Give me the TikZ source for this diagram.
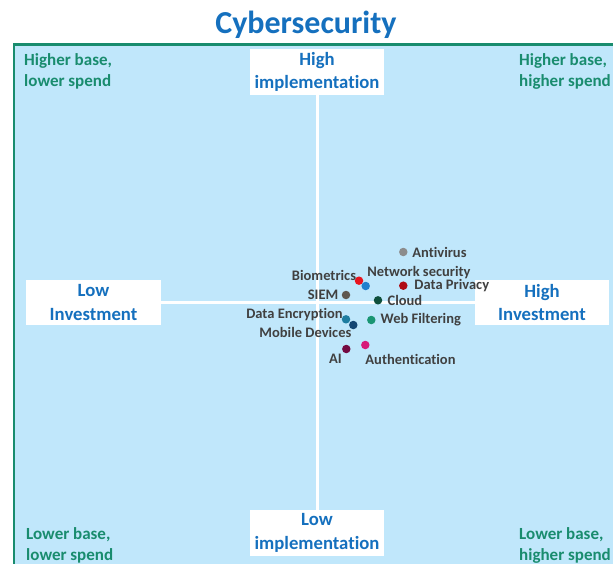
\documentclass[tikz,border=0pt]{standalone}
\usepackage{fontspec}
\setmainfont{Carlito}[Ligatures=NoCommon]
\usetikzlibrary{positioning}

\definecolor{titleblue}{RGB}{21,112,190}
\definecolor{framegreen}{RGB}{25,140,110}
\definecolor{quadfill}{RGB}{192,231,251}
\definecolor{labelgray}{RGB}{64,64,64}
% Punktfarben
\definecolor{avcol}{RGB}{140,140,140}
\definecolor{biocol}{RGB}{232,20,30}
\definecolor{netcol}{RGB}{30,128,205}
\definecolor{privcol}{RGB}{175,10,20}
\definecolor{siemcol}{RGB}{95,88,80}
\definecolor{cloudcol}{RGB}{15,80,60}
\definecolor{enccol}{RGB}{30,125,160}
\definecolor{mobcol}{RGB}{20,70,115}
\definecolor{webcol}{RGB}{25,150,115}
\definecolor{authcol}{RGB}{215,25,120}
\definecolor{aicol}{RGB}{115,10,65}

\tikzset{
  quad schemes/.style = {
    x = 1pt, y = -1pt,
    % Achsenbeschriftung
    axis box/.style = {
      fill=white, text=titleblue,
      align=center, inner sep=0pt,
      minimum width=134pt, minimum height=46pt,
      font=\fontsize{18.7}{23.5}\selectfont\bfseries
    },
    corner text/.style = {
      text=framegreen, align=left,
      inner sep=0pt, anchor=west,
      font=\fontsize{17}{21}\selectfont\bfseries
    },
    % Punkte
    data dot/.style  = { circle, inner sep=0pt, minimum size=8.5pt },
    dotlabel/.style  = { text=labelgray, inner sep=0pt,
                         font=\fontsize{14.5}{16}\selectfont\bfseries },
    axis line/.style = { white, line width=3pt },
  },
}

\begin{document}
\begin{tikzpicture}[quad schemes]
  \useasboundingbox (0,0) rectangle (613,564);
  \clip (0,0) rectangle (613,564);

  \draw[fill=quadfill, draw=framegreen, line width=2.2pt]
       (14,44.5) rectangle (640,600);

  \node[anchor=base, text=titleblue, font=\fontsize{32}{36}\selectfont\bfseries]
       (title) at (306,34) {Cybersecurity};

  \node[axis box] (highimpl) at (317,72)  {High\\implementation};
  \node[axis box] (lowimpl)  at (317,533) {Low\\implementation};
  \node[axis box, minimum width=135pt, minimum height=45pt]
       (lowinv)  at (93.5,302.5) {Low\\Investment};
  \node[axis box, minimum height=45pt]
       (highinv) at (542,302.5)  {High\\Investment};

  \draw[axis line] (highimpl.south) -- (lowimpl.north);
  \draw[axis line] (lowinv.east) -- (highinv.west);

  \node[corner text] (tl) at (24,71)   {Higher base,\\lower spend};
  \node[corner text] (tr) at (519,71)  {Higher base,\\higher spend};
  \node[corner text] (bl) at (26,545)  {Lower base,\\lower spend};
  \node[corner text] (br) at (519,545) {Lower base,\\higher spend};

  \foreach \n/\c/\p in {antivirus/avcol/{403.3,252},  biometrics/biocol/{359,280.7},
                        netsec/netcol/{365.7,286},     dataprivacy/privcol/{403.3,285.7},
                        siem/siemcol/{346,295},        cloud/cloudcol/{378,300.3},
                        dataenc/enccol/{346,319.3},    mobile/mobcol/{353.3,325},
                        webfilter/webcol/{371.3,320},  auth/authcol/{365.3,345},
                        ai/aicol/{346.3,349}}
    \node[data dot, fill=\c] (\n) at (\p) {};

  \node[dotlabel, right=4.4pt of antivirus]                 (antivirus-l)   {Antivirus};
  \node[dotlabel, left=-1.7pt of biometrics, yshift=5.7pt]  (biometrics-l)  {Biometrics};
  \node[dotlabel, right=-3pt of netsec, yshift=13.7pt]      (netsec-l)      {Network security};
  \node[dotlabel, right=6.5pt of dataprivacy]               (dataprivacy-l) {Data Privacy};
  \node[dotlabel, left=3pt of siem]                         (siem-l)        {SIEM};
  \node[dotlabel, right=5pt of cloud]                       (cloud-l)       {Cloud};
  \node[dotlabel, left=-1.3pt of dataenc, yshift=4.3pt]     (dataenc-l)     {Data Encryption};
  \node[dotlabel, left=-2.7pt of mobile, yshift=-7.3pt]     (mobile-l)      {Mobile Devices};
  \node[dotlabel, right=4.7pt of webfilter]                 (webfilter-l)   {Web Filtering};
  \node[dotlabel, right=-4.5pt of auth, yshift=-14.3pt]     (auth-l)        {Authentication};
  \node[dotlabel, left=0pt of ai, yshift=-9.3pt]            (ai-l)          {AI};

\end{tikzpicture}
\end{document}
